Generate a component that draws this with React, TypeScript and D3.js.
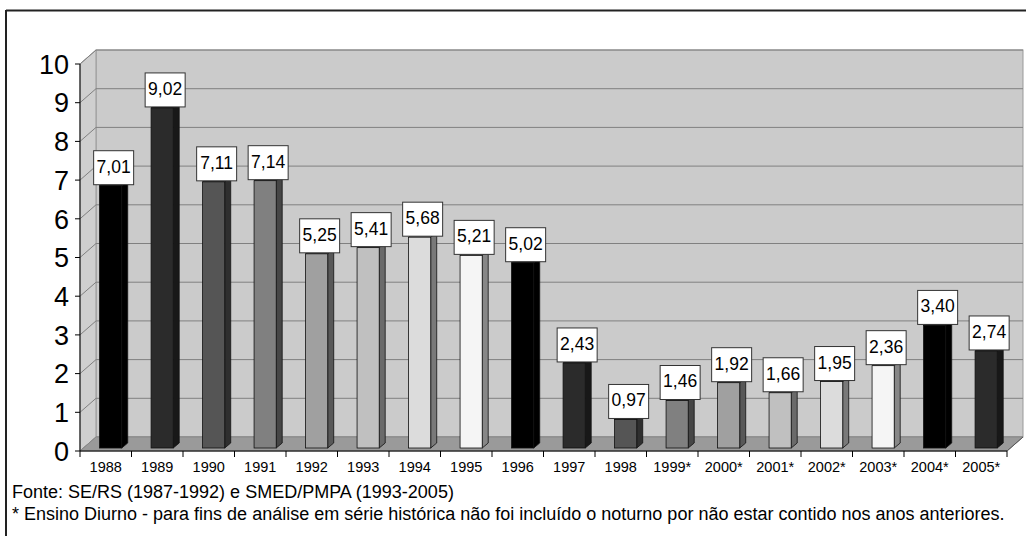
import * as d3 from 'd3';

// dados
const anos = ['1988', '1989', '1990', '1991', '1992', '1993', '1994', '1995', '1996', '1997', '1998', '1999*', '2000*', '2001*', '2002*', '2003*', '2004*', '2005*'];
const valores = [7.01, 9.02, 7.11, 7.14, 5.25, 5.41, 5.68, 5.21, 5.02, 2.43, 0.97, 1.46, 1.92, 1.66, 1.95, 2.36, 3.40, 2.74];
const tonsBarras = ['#000000', '#2b2b2b', '#555555', '#808080', '#a0a0a0', '#c0c0c0', '#dcdcdc', '#f5f5f5'];
const ticksY = [0, 1, 2, 3, 4, 5, 6, 7, 8, 9, 10];
const notas = [
  'Fonte: SE/RS (1987-1992) e SMED/PMPA (1993-2005)',
  '* Ensino Diurno - para fins de análise em série histórica não foi incluído o noturno por não estar contido nos anos anteriores.',
];

const W = 1026;
const H = 536;
const fonte = 'Arial, "Liberation Sans", sans-serif';

export default function App() {
  // área do gráfico (plano da frente)
  const x0 = 80, x1 = 1007;
  const yBase = 451, yTopo = 64;
  const dx = 16, dy = -14; // profundidade 3D
  const bdx = 6, bdy = -5; // profundidade da barra

  const x = d3.scaleBand().domain(anos).range([x0, x1]);
  const y = d3.scaleLinear().domain([0, 10]).range([yBase, yTopo]);
  const bw = x.bandwidth();

  const fmt = (v: number) => d3.format('.2f')(v).replace('.', ',');
  const lado = (c: string) => d3.interpolateRgb(c, '#000')(0.45);

  return (
    <svg width={W} height={H} style={{ position: 'absolute', left: 0, top: 0, background: '#fff' }}>
      {/* moldura */}
      <line x1={6} y1={10.5} x2={W} y2={10.5} stroke="#222" strokeWidth={2} />
      <line x1={6} y1={10} x2={6} y2={H} stroke="#222" strokeWidth={2} />

      {/* parede do fundo */}
      <rect x={x0 + dx} y={yTopo + dy} width={x1 - x0} height={yBase - yTopo} fill="#cbcbcb" stroke="#999" />
      {/* parede lateral */}
      <polygon
        points={`${x0},${yTopo} ${x0 + dx},${yTopo + dy} ${x0 + dx},${yBase + dy} ${x0},${yBase}`}
        fill="#cfcfcf" stroke="#999"
      />
      {/* grade */}
      {ticksY.map(t => (
        <g key={'g' + t}>
          <line x1={x0 + dx} x2={x1 + dx} y1={y(t) + dy} y2={y(t) + dy} stroke="#808080" />
          <line x1={x0} x2={x0 + dx} y1={y(t)} y2={y(t) + dy} stroke="#808080" />
        </g>
      ))}
      {/* piso */}
      <polygon
        points={`${x0},${yBase} ${x0 + dx},${yBase + dy} ${x1 + dx},${yBase + dy} ${x1},${yBase}`}
        fill="#9a9a9a" stroke="#888"
      />

      {/* barras */}
      {anos.map((a, i) => {
        const v = valores[i];
        const cor = tonsBarras[i % tonsBarras.length];
        const bx = (x(a) as number) + bw * 0.38;
        const w = bw * 0.43;
        const b = yBase - 3;
        const top = y(v) + 6;
        const cx = bx + (w + bdx) / 2;
        return (
          <g key={a}>
            <polygon
              points={`${bx + w},${b} ${bx + w + bdx},${b + bdy} ${bx + w + bdx},${top + bdy} ${bx + w},${top}`}
              fill={lado(cor)} stroke="#111" strokeWidth={0.8}
            />
            <polygon
              points={`${bx},${top} ${bx + w},${top} ${bx + w + bdx},${top + bdy} ${bx + bdx},${top + bdy}`}
              fill={lado(cor)} stroke="#111" strokeWidth={0.8}
            />
            <rect x={bx} y={top} width={w} height={b - top} fill={cor} stroke="#111" strokeWidth={0.8} />
            <rect x={cx - 20} y={top - 35} width={40} height={34} fill="#fff" stroke="#333" strokeWidth={1} />
            <text x={cx} y={top - 13} textAnchor="middle" fontFamily={fonte} fontSize={17.5} fill="#000">
              {fmt(v)}
            </text>
          </g>
        );
      })}

      {/* eixos */}
      <line x1={x0} x2={x0} y1={yTopo} y2={yBase} stroke="#000" />
      <line x1={x0} x2={x1} y1={yBase} y2={yBase} stroke="#000" />
      <line x1={x1} x2={x1 + dx} y1={yBase} y2={yBase + dy} stroke="#555" />
      {ticksY.map(t => (
        <g key={'t' + t}>
          <line x1={x0 - 5} x2={x0} y1={y(t)} y2={y(t)} stroke="#000" />
          <text x={69} y={y(t)} dy="0.36em" textAnchor="end" fontFamily={fonte} fontSize={27} fill="#000">
            {t}
          </text>
        </g>
      ))}
      {[...anos.map(a => x(a) as number), x1].map((p, i) => (
        <line key={'xt' + i} x1={p} x2={p} y1={yBase} y2={yBase + 6} stroke="#000" />
      ))}
      {anos.map(a => (
        <text key={'xl' + a} x={(x(a) as number) + bw / 2} y={472} textAnchor="middle" fontFamily={fonte} fontSize={14.5} fill="#000">
          {a}
        </text>
      ))}

      {/* notas */}
      {notas.map((n, i) => (
        <text key={'n' + i} x={12} y={498 + i * 22} fontFamily={fonte} fontSize={18} fill="#000">
          {n}
        </text>
      ))}
    </svg>
  );
}
